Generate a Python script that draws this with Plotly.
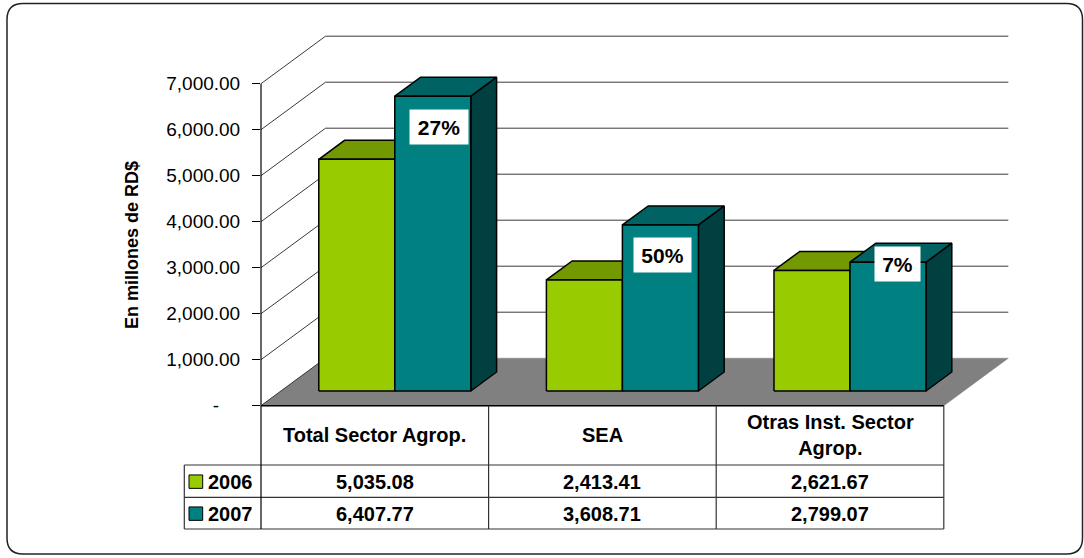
import textwrap
import plotly.graph_objects as go

# ---------------- data ----------------
categories = ["Total Sector Agrop.", "SEA", "Otras Inst. Sector Agrop."]
series_names = ["2006", "2007"]
values_2006 = [5035.08, 2413.41, 2621.67]
values_2007 = [6407.77, 3608.71, 2799.07]
y_ticks = [0, 1000, 2000, 3000, 4000, 5000, 6000, 7000]
y_tick_labels = ["-\u00a0\u00a0\u00a0\u00a0", "1,000.00", "2,000.00", "3,000.00",
                 "4,000.00", "5,000.00", "6,000.00", "7,000.00"]
y_title = "En millones de RD$"

# ---------------- styling / geometry ----------------
W, H = 1084, 558
L = 261                      # left margin = front vertical axis
PX_PER_CAT = 227.6           # px per category
PX_PER_UNIT = 0.046          # px per value unit
Y0_PX = 405.7                # pixel row of value 0 on the front plane
DX = 64.5 / PX_PER_CAT       # full depth offset (x units)
DY = 47.5 / PX_PER_UNIT      # full depth offset (value units)
F0, FD = 0.31, 0.40          # bar depth start / bar depth
BW = 76 / PX_PER_CAT         # bar width (x units)

FONT = "Liberation Sans, Arial, sans-serif"
front_cols = ["#99CC00", "#008080"]
top_cols = ["#739900", "#006262"]
side_cols = ["#4D6600", "#004040"]

x_range = [-0.5, -0.5 + (W - L) / PX_PER_CAT]
y_range = [(Y0_PX - H) / PX_PER_UNIT, Y0_PX / PX_PER_UNIT]


def px(xp):
    return (xp - L) / (W - L)


def py(yp):
    return 1 - yp / H


fig = go.Figure()

# back-wall gridlines with their left-wall diagonals
n = len(categories)
gx, gy = [], []
for v in y_ticks[1:]:
    gx += [-0.5, -0.5 + DX, n - 0.5 + DX, None]
    gy += [v, v + DY, v + DY, None]
fig.add_trace(go.Scatter(x=gx, y=gy, mode="lines", line=dict(color="#3a3a3a", width=1),
                         hoverinfo="skip", showlegend=False))

# floor
fig.add_trace(go.Scatter(x=[-0.5, n - 0.5, n - 0.5 + DX, -0.5 + DX, -0.5],
                         y=[0, 0, DY, DY, 0], mode="lines", fill="toself",
                         fillcolor="#808080", line=dict(color="#808080", width=0.5),
                         hoverinfo="skip", showlegend=False))
fig.add_trace(go.Scatter(x=[-0.5, -0.5 + DX], y=[0, DY], mode="lines",
                         line=dict(color="#3a3a3a", width=1), hoverinfo="skip", showlegend=False))

# 3D bars
ddx, ddy = FD * DX, FD * DY
base = F0 * DY
for s, vals in enumerate([values_2006, values_2007]):
    fx, fy, tx, ty, sx, sy = [], [], [], [], [], []
    for i, v in enumerate(vals):
        xl = i + F0 * DX + (s - 1) * BW
        xr = xl + BW
        y1 = v + base
        fx += [xl, xr, xr, xl, xl, None]
        fy += [base, base, y1, y1, base, None]
        tx += [xl, xr, xr + ddx, xl + ddx, xl, None]
        ty += [y1, y1, y1 + ddy, y1 + ddy, y1, None]
        sx += [xr, xr + ddx, xr + ddx, xr, xr, None]
        sy += [base, base + ddy, y1 + ddy, y1, base, None]
    for xs, ys, col in [(sx, sy, side_cols[s]), (tx, ty, top_cols[s]), (fx, fy, front_cols[s])]:
        fig.add_trace(go.Scatter(x=xs, y=ys, mode="lines", fill="toself", fillcolor=col,
                                 line=dict(color="black", width=1.5), name=series_names[s],
                                 hoverinfo="skip", showlegend=False))

annotations = []
shapes = []

# percentage change labels on 2007 bars
pct_offsets = [(6, -31), (2, -30), (10, -2)]
pct_widths = [56, 55, 43]
for i, (a, b) in enumerate(zip(values_2006, values_2007)):
    pct = round((b / a - 1) * 100)
    annotations.append(dict(
        x=i + F0 * DX + BW / 2, y=b + base, xref="x", yref="y",
        xanchor="center", yanchor="middle",
        text=f"<b>{pct}%</b>", showarrow=False, bgcolor="white",
        font=dict(family=FONT, size=21, color="black"),
        xshift=pct_offsets[i][0], yshift=pct_offsets[i][1],
        width=pct_widths[i], height=32, borderpad=1))

# y axis title
annotations.append(dict(x=px(132), y=py(245), xref="paper", yref="paper",
                        xanchor="center", yanchor="middle",
                        text=f"<b>{y_title}</b>", textangle=-90, showarrow=False,
                        font=dict(family=FONT, size=18, color="black")))

# data table
col_x = [L + k * PX_PER_CAT for k in range(n + 1)]
top_y, head_b, row1_b, row2_b = Y0_PX, 465, 497.3, 529
leg_left = 184.3
axis_top = Y0_PX - y_ticks[-1] * PX_PER_UNIT
lc = "#333333"


def hline(x0, x1, y, color=lc, w=1.2):
    shapes.append(dict(type="line", xref="paper", yref="paper", x0=px(x0), x1=px(x1),
                       y0=py(y), y1=py(y), line=dict(color=color, width=w)))


def vline(x, y0, y1, color=lc, w=1.2):
    shapes.append(dict(type="line", xref="paper", yref="paper", x0=px(x), x1=px(x),
                       y0=py(y0), y1=py(y1), line=dict(color=color, width=w)))


hline(col_x[0], col_x[-1], top_y, "black", 1.5)
for yy in (head_b, row1_b, row2_b):
    hline(leg_left, col_x[-1], yy)
vline(leg_left, head_b, row2_b)
vline(col_x[0], axis_top, row2_b, "black", 1.2)
for k in range(1, n + 1):
    vline(col_x[k], top_y, row2_b)

row_centers = [(head_b + row1_b) / 2 + 0.5, (row1_b + row2_b) / 2 + 0.5]
for k, cat in enumerate(categories):
    cx = (col_x[k] + col_x[k + 1]) / 2
    annotations.append(dict(x=px(cx), y=py((top_y + head_b) / 2), xref="paper", yref="paper",
                            xanchor="center", yanchor="middle",
                            text="<b>" + "<br>".join(textwrap.wrap(cat, 20)) + "</b>",
                            showarrow=False, align="center",
                            font=dict(family=FONT, size=20, color="black")))
    for r, vals in enumerate([values_2006, values_2007]):
        annotations.append(dict(x=px(cx), y=py(row_centers[r]), xref="paper", yref="paper",
                                xanchor="center", yanchor="middle",
                                text=f"<b>{vals[k]:,.2f}</b>", showarrow=False,
                                font=dict(family=FONT, size=20, color="black")))

# legend keys inside the table
for r, name in enumerate(series_names):
    ry = row_centers[r]
    shapes.append(dict(type="rect", xref="paper", yref="paper",
                       x0=px(189), x1=px(202.7), y0=py(ry - 6.7), y1=py(ry + 6.7),
                       fillcolor=front_cols[r], line=dict(color="black", width=1)))
    annotations.append(dict(x=px(206), y=py(ry), xref="paper", yref="paper",
                            xanchor="left", yanchor="middle",
                            text=f"<b>{name}</b>", showarrow=False,
                            font=dict(family=FONT, size=20, color="black")))

# rounded outer border
x0b, y0b, x1b, y1b, r = 7, 3.5, 1082.5, 554, 16
path = (f"M {px(x0b + r)},{py(y0b)} L {px(x1b - r)},{py(y0b)} "
        f"Q {px(x1b)},{py(y0b)} {px(x1b)},{py(y0b + r)} "
        f"L {px(x1b)},{py(y1b - r)} Q {px(x1b)},{py(y1b)} {px(x1b - r)},{py(y1b)} "
        f"L {px(x0b + r)},{py(y1b)} Q {px(x0b)},{py(y1b)} {px(x0b)},{py(y1b - r)} "
        f"L {px(x0b)},{py(y0b + r)} Q {px(x0b)},{py(y0b)} {px(x0b + r)},{py(y0b)} Z")
shapes.append(dict(type="path", xref="paper", yref="paper", path=path,
                   line=dict(color="#222222", width=1.5)))

fig.update_layout(
    width=W, height=H, autosize=False,
    margin=dict(l=L, r=0, t=0, b=0),
    paper_bgcolor="white", plot_bgcolor="white",
    showlegend=False,
    xaxis=dict(range=x_range, visible=False, fixedrange=True),
    yaxis=dict(range=y_range, tickmode="array", tickvals=y_ticks, ticktext=y_tick_labels,
               ticks="outside", ticklen=8, tickcolor="black", tickwidth=1,
               ticklabelstandoff=8,
               showgrid=False, zeroline=False, showline=False, fixedrange=True,
               tickfont=dict(family=FONT, size=19, color="black")),
    annotations=annotations,
    shapes=shapes,
)

fig.write_html(
    "out.html",
    config={"displayModeBar": False, "staticPlot": True},
    post_script="document.body.style.margin='0';document.body.style.overflow='hidden';",
)
